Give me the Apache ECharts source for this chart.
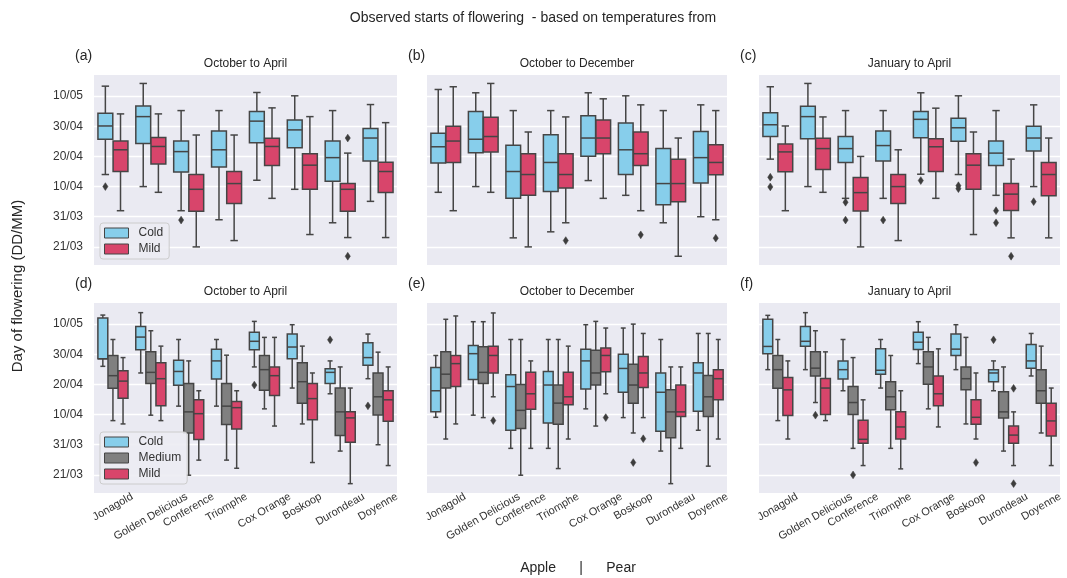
<!DOCTYPE html>
<html>
<head>
<meta charset="utf-8">
<script src="https://cdn.jsdelivr.net/npm/echarts@6/dist/echarts.min.js"></script>
<style>
  html, body { margin: 0; padding: 0; background: #ffffff; }
  #chart { width: 1067px; height: 578px; }
</style>
</head>
<body>
<div id="chart"></div>
<script>
// Varieties on the x axis
const varieties = ['Jonagold', 'Golden Delicious', 'Conference', 'Triomphe', 'Cox Orange', 'Boskoop', 'Durondeau', 'Doyenne'];

// Day-of-year ticks and their DD/MM labels
const yTickValues = [80, 90, 100, 110, 120, 130];
const yTickLabels = ['21/03', '31/03', '10/04', '20/04', '30/04', '10/05'];

// Box statistics per variety (day of year): [lower whisker, Q1, median, Q3, upper whisker]
// (a) October to April, two groups
const aCold = [
  [104.0, 115.7, 120.1, 124.3, 133.3], [100.0, 114.3, 123.2, 126.7, 134.2],
  [92.0, 104.8, 111.6, 115.1, 125.2], [89.0, 106.5, 112.2, 118.4, 125.2],
  [102.1, 114.5, 121.7, 124.9, 131.2], [99.1, 112.9, 118.8, 122.1, 130.1],
  [88.0, 101.8, 109.6, 115.1, 125.2], [95.1, 108.5, 116.1, 119.3, 127.2]
];
const aMild = [
  [92.0, 105.0, 112.2, 115.1, 124.1], [98.1, 107.5, 113.3, 116.3, 124.1],
  [80.0, 91.8, 99.1, 104.0, 117.1], [82.1, 94.4, 101.0, 105.0, 117.1],
  [96.1, 107.0, 113.3, 116.0, 126.1], [84.1, 99.1, 107.1, 110.9, 123.2],
  [83.1, 91.8, 99.1, 101.0, 111.1], [83.1, 98.0, 105.0, 108.1, 121.2]
];
// (b) October to December
const bCold = [
  [98.1, 107.8, 113.2, 117.7, 132.2], [100.0, 111.2, 115.7, 124.9, 131.1],
  [83.0, 96.1, 105.0, 113.7, 125.2], [85.0, 98.4, 108.0, 117.2, 125.2],
  [102.0, 110.1, 116.1, 123.5, 131.1], [97.1, 104.0, 112.2, 121.1, 130.1],
  [88.0, 94.0, 101.0, 112.6, 125.2], [90.0, 101.2, 109.6, 118.3, 127.1]
];
const bMild = [
  [92.0, 108.0, 115.1, 120.0, 133.1], [98.1, 111.5, 116.6, 123.0, 134.2],
  [80.0, 97.1, 104.0, 110.9, 118.1], [88.0, 99.5, 104.0, 110.9, 123.1],
  [96.1, 110.9, 116.1, 122.1, 129.1], [92.0, 107.0, 110.9, 118.1, 127.1],
  [76.9, 95.0, 101.0, 109.1, 116.1], [89.0, 103.9, 108.0, 113.9, 125.2]
];
// (c) January to April
const cCold = [
  [109.1, 116.6, 120.5, 124.5, 133.1], [100.0, 115.9, 123.2, 126.6, 134.2],
  [96.1, 108.0, 112.6, 116.6, 125.2], [96.1, 108.5, 113.6, 118.4, 125.2],
  [104.1, 116.2, 122.3, 124.9, 131.1], [104.0, 115.0, 119.5, 122.7, 130.1],
  [97.1, 107.0, 111.1, 115.1, 125.2], [100.0, 111.8, 116.1, 120.0, 127.1]
];
const cMild = [
  [92.0, 104.9, 111.5, 114.1, 120.1], [98.1, 105.7, 112.6, 116.0, 123.1],
  [80.0, 91.9, 98.0, 103.0, 110.0], [82.1, 94.4, 100.0, 104.0, 112.2],
  [96.1, 105.0, 113.2, 115.9, 126.0], [84.1, 99.1, 107.1, 110.9, 118.1],
  [83.0, 92.1, 97.5, 101.0, 109.1], [83.0, 97.0, 104.0, 108.0, 116.1]
];
// (d) October to April, three groups
const dCold = [
  [116.0, 118.5, 118.5, 132.0, 133.0], [113.8, 121.5, 125.7, 129.2, 133.8],
  [102.8, 109.7, 114.3, 118.0, 124.9], [102.8, 111.8, 117.8, 121.7, 124.9],
  [115.8, 121.5, 124.3, 127.3, 130.9], [108.8, 118.5, 122.4, 126.7, 129.8],
  [106.9, 110.3, 114.0, 115.2, 117.8], [111.9, 116.4, 118.9, 123.8, 126.7]
];
const dMedium = [
  [98.0, 108.7, 112.9, 119.6, 124.9], [99.8, 110.3, 114.0, 120.8, 127.8],
  [79.9, 93.9, 100.9, 110.3, 117.8], [84.9, 96.7, 102.8, 110.3, 119.7],
  [101.9, 108.1, 114.9, 119.6, 125.6], [96.9, 103.8, 110.9, 117.2, 122.7],
  [87.9, 93.1, 100.9, 108.8, 115.8], [90.0, 99.9, 105.9, 113.8, 120.7]
];
const dMild = [
  [96.9, 105.4, 111.1, 114.5, 118.9], [98.0, 102.9, 111.9, 117.2, 122.7],
  [84.9, 91.7, 100.3, 104.9, 107.9], [82.2, 95.2, 102.3, 104.3, 107.9],
  [96.2, 106.3, 112.9, 115.8, 125.6], [84.1, 98.3, 105.3, 110.3, 113.8],
  [77.1, 90.8, 98.9, 100.9, 108.8], [83.1, 97.8, 104.9, 107.9, 115.8]
];
// (e) October to December
const eCold = [
  [99.1, 100.9, 107.9, 115.6, 119.6], [99.8, 111.6, 120.2, 122.9, 130.8],
  [88.8, 94.8, 109.3, 113.2, 124.9], [88.8, 97.2, 109.8, 114.3, 124.9],
  [101.9, 108.5, 117.8, 121.7, 129.8], [99.0, 107.4, 115.3, 120.0, 128.7],
  [87.9, 94.5, 107.4, 113.8, 124.9], [94.8, 101.1, 113.8, 117.2, 126.9]
];
const eMedium = [
  [91.9, 108.8, 113.4, 120.8, 131.6], [99.0, 110.3, 114.0, 122.5, 130.8],
  [79.9, 95.4, 101.4, 110.0, 124.9], [82.1, 96.8, 103.8, 109.8, 124.9],
  [96.2, 109.8, 113.8, 121.3, 130.9], [93.9, 103.8, 109.8, 116.7, 130.0],
  [77.1, 92.3, 100.9, 108.2, 115.8], [82.9, 99.4, 105.9, 113.0, 126.9]
];
const eMild = [
  [96.9, 109.3, 116.9, 119.6, 132.7], [105.9, 113.8, 119.6, 122.7, 133.7],
  [88.8, 101.8, 106.9, 114.0, 117.8], [91.9, 103.3, 105.9, 114.0, 122.7],
  [106.9, 114.2, 119.6, 122.1, 128.7], [99.0, 109.0, 113.8, 119.3, 126.9],
  [88.8, 99.4, 100.9, 109.8, 115.8], [91.9, 104.9, 111.9, 114.9, 124.9]
];
// (f) January to April
const fCold = [
  [114.9, 120.2, 122.6, 131.6, 132.9], [114.9, 122.7, 124.3, 129.2, 133.8],
  [107.9, 111.8, 114.9, 117.8, 124.9], [108.8, 113.4, 114.7, 121.8, 124.9],
  [116.9, 121.6, 124.0, 127.3, 130.8], [114.9, 119.6, 121.7, 126.7, 129.8],
  [107.9, 110.9, 113.8, 114.9, 117.8], [112.8, 115.4, 117.8, 123.2, 126.9]
];
const fMedium = [
  [98.0, 108.7, 114.9, 119.6, 124.9], [104.0, 112.8, 115.4, 120.8, 127.8],
  [88.8, 100.0, 104.0, 109.3, 118.9], [88.8, 101.6, 105.9, 110.9, 119.6],
  [101.9, 110.1, 115.8, 120.8, 125.6], [96.9, 108.2, 111.9, 115.8, 125.6],
  [87.9, 98.9, 100.9, 107.6, 115.8], [93.9, 103.8, 107.9, 114.9, 122.7]
];
const fMild = [
  [91.9, 99.7, 108.2, 112.3, 117.8], [98.0, 100.0, 108.8, 112.0, 120.8],
  [83.1, 90.5, 91.8, 98.1, 104.9], [82.0, 91.9, 95.9, 100.9, 107.9],
  [95.9, 102.9, 106.9, 112.8, 121.8], [91.9, 96.8, 99.1, 104.9, 113.8],
  [83.1, 90.5, 93.2, 96.2, 100.9], [83.1, 92.9, 97.9, 103.8, 108.8]
];

// Outliers: [variety, day of year]
const aColdOut = [['Jonagold', 100.0], ['Conference', 88.9]];
const aMildOut = [['Durondeau', 116.1], ['Durondeau', 76.9]];
const bColdOut = [];
const bMildOut = [['Triomphe', 82.1], ['Boskoop', 84.0], ['Doyenne', 82.9]];
const cColdOut = [['Jonagold', 103.1], ['Jonagold', 99.9], ['Conference', 94.8], ['Conference', 88.9],
  ['Triomphe', 88.9], ['Cox Orange', 102.0], ['Boskoop', 100.3], ['Boskoop', 99.3],
  ['Durondeau', 92.0], ['Durondeau', 88.0], ['Doyenne', 95.0]];
const cMildOut = [['Durondeau', 76.9]];
const dColdOut = [['Cox Orange', 109.8], ['Durondeau', 124.8], ['Doyenne', 102.9]];
const dMediumOut = [];
const dMildOut = [];
const eColdOut = [];
const eMediumOut = [['Boskoop', 84.1]];
const eMildOut = [['Golden Delicious', 98.0], ['Cox Orange', 99.0], ['Boskoop', 92.0]];
const fColdOut = [['Durondeau', 124.8]];
const fMediumOut = [['Golden Delicious', 99.8], ['Conference', 80.0]];
const fMildOut = [['Boskoop', 84.1], ['Durondeau', 108.7], ['Durondeau', 77.1]];

// ---- styling ----
const FONT = '"Liberation Sans", Arial, Helvetica, sans-serif';
const EDGE = '#454545';
const TEXT = '#262626';
const hueColors = { Cold: '#87CEEB', Medium: '#808080', Mild: '#D8456B' };

const panels = [
  { tag: '(a)', period: 'October to April', hues: [['Cold', aCold, aColdOut], ['Mild', aMild, aMildOut]] },
  { tag: '(b)', period: 'October to December', hues: [['Cold', bCold, bColdOut], ['Mild', bMild, bMildOut]] },
  { tag: '(c)', period: 'January to April', hues: [['Cold', cCold, cColdOut], ['Mild', cMild, cMildOut]] },
  { tag: '(d)', period: 'October to April', hues: [['Cold', dCold, dColdOut], ['Medium', dMedium, dMediumOut], ['Mild', dMild, dMildOut]] },
  { tag: '(e)', period: 'October to December', hues: [['Cold', eCold, eColdOut], ['Medium', eMedium, eMediumOut], ['Mild', eMild, eMildOut]] },
  { tag: '(f)', period: 'January to April', hues: [['Cold', fCold, fColdOut], ['Medium', fMedium, fMediumOut], ['Mild', fMild, fMildOut]] }
];

// plot areas, 2 rows x 3 columns
const colLeft = [94, 427, 759];
const colWidth = [303, 300, 301];
const rowTop = [75, 303];
const PLOT_H = 190;

// x label geometry: rotated 30 degrees and centred under the tick
const measureCtx = document.createElement('canvas').getContext('2d');
measureCtx.font = '11px ' + FONT;
const labelRich = {};
varieties.forEach((v, i) => {
  const w = measureCtx.measureText(v).width;
  const d = Math.max(0, 0.25 * w + 0.433 * 11 - 2);
  labelRich['l' + i] = {
    fontSize: 11, fontFamily: FONT, color: '#333333', lineHeight: 13,
    padding: [1.732 * d, d, 0, 0]
  };
});

function makeBox(k, n, fill) {
  return function (params, api) {
    const ci = api.value(0);
    const band = api.size([1, 0])[0];
    const slot = band * 0.8 / n;
    const w = slot * 0.98;
    const cx = api.coord([ci, 100])[0] - band * 0.4 + slot * (k + 0.5);
    const py = (j) => api.coord([ci, api.value(j)])[1];
    const lo = py(1), q1 = py(2), md = py(3), q3 = py(4), hi = py(5);
    const seg = (x1, y1, x2, y2) => ({
      type: 'line', shape: { x1, y1, x2, y2 },
      style: { stroke: EDGE, lineWidth: 1.5, fill: null }
    });
    return {
      type: 'group',
      children: [
        seg(cx, q1, cx, lo), seg(cx, q3, cx, hi),
        seg(cx - w / 4, lo, cx + w / 4, lo), seg(cx - w / 4, hi, cx + w / 4, hi),
        { type: 'rect', shape: { x: cx - w / 2, y: q3, width: w, height: q1 - q3 },
          style: { fill, stroke: EDGE, lineWidth: 1.5 } },
        seg(cx - w / 2, md, cx + w / 2, md)
      ]
    };
  };
}

function makeDiamond(k, n) {
  return function (params, api) {
    const ci = api.value(0);
    const band = api.size([1, 0])[0];
    const slot = band * 0.8 / n;
    const p = api.coord([ci, api.value(1)]);
    const cx = p[0] - band * 0.4 + slot * (k + 0.5);
    const cy = p[1];
    return {
      type: 'polygon',
      shape: { points: [[cx, cy - 3.9], [cx + 2.6, cy], [cx, cy + 3.9], [cx - 2.6, cy]] },
      style: { fill: '#3d3d3d', stroke: '#3d3d3d', lineWidth: 0.5 }
    };
  };
}

const grids = [], xAxes = [], yAxes = [], series = [], graphics = [];

panels.forEach((p, gi) => {
  const row = Math.floor(gi / 3), col = gi % 3;
  const left = colLeft[col], top = rowTop[row], width = colWidth[col];
  grids.push({
    left, top, width, height: PLOT_H, show: true,
    backgroundColor: '#EAEAF2', borderWidth: 0,
    containLabel: false, outerBoundsMode: 'none'
  });
  xAxes.push({
    type: 'category', gridIndex: gi, data: varieties, boundaryGap: true,
    axisLine: { show: false }, axisTick: { show: false }, splitLine: { show: false },
    axisLabel: {
      show: row === 1, interval: 0, rotate: 30, margin: 0,
      align: 'center', verticalAlign: 'middle',
      formatter: (val, idx) => '{l' + idx + '|' + val + '}',
      rich: labelRich
    }
  });
  yAxes.push({
    type: 'value', gridIndex: gi, min: 74, max: 137,
    axisLine: { show: false },
    axisTick: { show: false, customValues: yTickValues },
    splitLine: { show: true, lineStyle: { color: '#ffffff', width: 1.3 } },
    axisLabel: {
      show: col === 0, customValues: yTickValues, margin: 11,
      fontSize: 12, fontFamily: FONT, color: '#333333',
      formatter: (v) => yTickLabels[yTickValues.indexOf(v)] || ''
    }
  });

  const n = p.hues.length;
  p.hues.forEach(([name, stats, outliers], k) => {
    series.push({
      type: 'custom', name, xAxisIndex: gi, yAxisIndex: gi, silent: true,
      itemStyle: { color: hueColors[name] },
      dimensions: ['variety', 'low', 'q1', 'median', 'q3', 'high'],
      encode: { x: 0, y: [1, 2, 3, 4, 5] },
      renderItem: makeBox(k, n, hueColors[name]),
      data: stats.map((s, i) => [i].concat(s)),
      z: 3
    });
    if (outliers.length) {
      series.push({
        type: 'custom', name, xAxisIndex: gi, yAxisIndex: gi, silent: true,
        itemStyle: { color: hueColors[name] },
        encode: { x: 0, y: 1 },
        renderItem: makeDiamond(k, n),
        data: outliers.map(([v, day]) => [varieties.indexOf(v), day]),
        z: 4
      });
    }
  });

  // panel letter and period title
  graphics.push({
    type: 'text', left: left - 19, top: top - 26,
    style: { text: p.tag, font: '14px ' + FONT, fill: TEXT }
  });
  graphics.push({
    type: 'text', x: left + width / 2, y: top - 11,
    style: { text: p.period, font: '12px ' + FONT, fill: TEXT,
      align: 'center', verticalAlign: 'middle', textAlign: 'center', textVerticalAlign: 'middle' }
  });
});

// overall title, shared axis title and bottom caption
graphics.push({
  type: 'text', x: 533, y: 18,
  style: { text: 'Observed starts of flowering  - based on temperatures from', font: '14px ' + FONT, fill: TEXT,
    align: 'center', verticalAlign: 'middle', textAlign: 'center', textVerticalAlign: 'middle' }
});
graphics.push({
  type: 'text', x: 18, y: 286, rotation: Math.PI / 2,
  style: { text: 'Day of flowering (DD/MM)', font: '15px ' + FONT, fill: TEXT,
    align: 'center', verticalAlign: 'middle', textAlign: 'center', textVerticalAlign: 'middle' }
});
graphics.push({
  type: 'text', x: 578, y: 568,
  style: { text: 'Apple      |      Pear', font: '14px ' + FONT, fill: TEXT,
    align: 'center', verticalAlign: 'middle', textAlign: 'center', textVerticalAlign: 'middle' }
});

function legendFor(names, top) {
  return {
    orient: 'vertical', left: 100, top,
    data: names.map((nm) => ({ name: nm, icon: 'rect',
      itemStyle: { color: hueColors[nm], borderColor: EDGE, borderWidth: 1 } })),
    itemWidth: 24, itemHeight: 10, itemGap: 4,
    padding: [4, 6, 4, 4],
    backgroundColor: 'rgba(236,236,243,0.9)', borderColor: '#cccccc', borderWidth: 1, borderRadius: 3,
    textStyle: { fontSize: 12, fontFamily: FONT, color: '#333333', padding: [0, 0, 0, 5] },
    selectedMode: false
  };
}

const chart = echarts.init(document.getElementById('chart'), null, { renderer: 'canvas' });
chart.setOption({
  backgroundColor: '#ffffff',
  animation: false,
  grid: grids,
  xAxis: xAxes,
  yAxis: yAxes,
  legend: [legendFor(['Cold', 'Mild'], 223), legendFor(['Cold', 'Medium', 'Mild'], 432)],
  graphic: graphics,
  series
});
</script>
</body>
</html>
